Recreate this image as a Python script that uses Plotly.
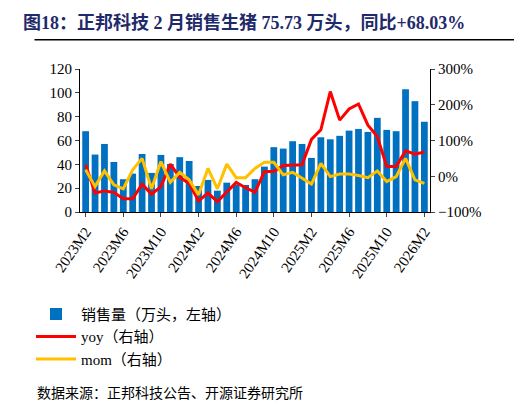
import plotly.graph_objects as go

months = [f"{y}M{m}" for y in (2023, 2024, 2025, 2026) for m in range(1, 13)][1:38]
sales = [67.8, 48.2, 57.1, 42.0, 27.5, 32.2, 48.7, 32.8, 47.9, 40.3, 46.0, 42.8, 21.8, 26.9, 17.9,
         24.6, 23.0, 22.7, 27.5, 38.1, 54.4, 53.2, 59.4, 57.1, 45.4, 62.7, 61.0, 63.9, 68.3, 69.7,
         67.2, 79.0, 68.9, 67.8, 103.0, 93.0, 75.73]
yoy = [32, -47, -41, -45, -63, -63, -22, -50, -29, 34, -3, -20, -69, -47, -71, -43, -17, -32,
       -45, 13, 13, 30, 30, 32, 103, 130, 237, 157, 188, 202, 143, 111, 27, 27, 71, 62, 68.03]
mom = [18, -29, 15, -24, -35, 18, 50, -35, 41, -17, 11, -10, -52, 22, -35, 34, -4, -4, 22, 39,
       39, 4, 11, -6, -22, 36, -1, 6, 6, 2, -4, 15, -15, -1, 50, -10, -20]
tick_labels = months[::4]

serif = "Liberation Serif, Noto Sans CJK SC"
fig = go.Figure()
fig.add_bar(x=months, y=sales, name="销售量（万头，左轴）", marker_color="#0070C0",
            marker_line_width=0, width=0.72)
fig.add_scatter(x=months, y=yoy, name="yoy（右轴）", yaxis="y2", mode="lines",
                line=dict(color="#FF0000", width=3))
fig.add_scatter(x=months, y=mom, name="mom（右轴）", yaxis="y2", mode="lines",
                line=dict(color="#FFC000", width=3))
fig.update_layout(
    width=522, height=405, margin=dict(l=72, r=100, t=61, b=201),
    plot_bgcolor="white", paper_bgcolor="white", bargap=0.28,
    font=dict(family=serif, size=15, color="black"),
    xaxis=dict(type="category", tickvals=tick_labels, ticktext=tick_labels, tickangle=-55,
               showline=True, linecolor="black", ticks="outside", ticklen=4,
               range=[-0.6, 36.6], tickfont=dict(size=15)),
    yaxis=dict(range=[0, 120], dtick=20, showline=True, linecolor="black", ticks="outside",
               ticklen=4, showgrid=False, zeroline=False, domain=[0, 1]),
    yaxis2=dict(range=[-100, 300], dtick=100, overlaying="y", side="right", showline=True,
                linecolor="black", ticks="outside", ticklen=4, ticksuffix="%",
                showgrid=False, zeroline=False),
    legend=dict(orientation="h", x=-0.14, y=-0.6, xanchor="left", yanchor="top",
                font=dict(size=15), entrywidth=235, entrywidthmode="pixels", itemwidth=40),
    showlegend=True,
)
fig.add_annotation(text="<b>图18：正邦科技 2 月销售生猪 75.73 万头，同比+68.03%</b>", xref="paper",
                   yref="paper", x=-0.17, y=1.32, xanchor="left", yanchor="middle",
                   showarrow=False, font=dict(size=18, color="#1F2A6B", family=serif))
fig.add_shape(type="line", xref="paper", yref="paper", x0=-0.13, x1=1.27, y0=1.205, y1=1.205,
              line=dict(color="black", width=1.5))
fig.add_annotation(text="数据来源：正邦科技公告、开源证券研究所", xref="paper", yref="paper",
                   x=-0.13, y=-1.27, xanchor="left", yanchor="middle", showarrow=False,
                   font=dict(size=14, family=serif))
fig.write_html("out.html")
